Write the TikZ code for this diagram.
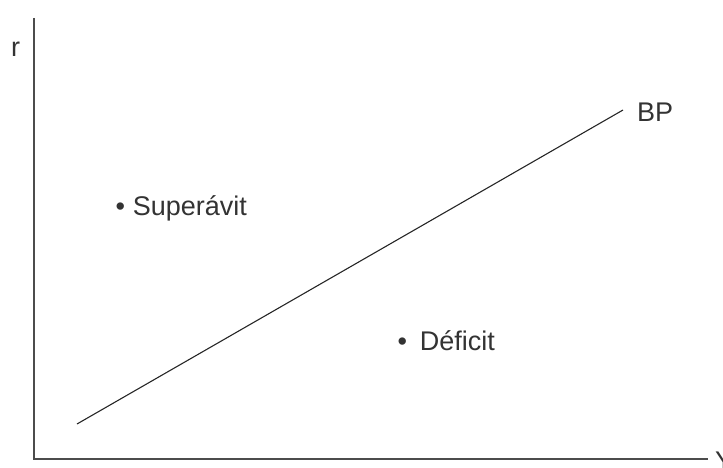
\documentclass[tikz,border=0pt]{standalone}
\usepackage{fontspec}
\setmainfont{Liberation Sans}
\begin{document}
\begin{tikzpicture}[x=1pt,y=1pt,
  lbl/.style={inner sep=0pt, anchor=base west, text=black!80, font=\fontsize{27}{32}\selectfont},
  axis/.style={draw=black!70, line width=2pt},
  bpline/.style={draw=black!85, line width=1.1pt}]
\useasboundingbox (0,0) rectangle (723,467);
\coordinate (top) at (33.5,449);
\coordinate (O) at (33.5,8);
\coordinate (right) at (708,8);
\coordinate (bpA) at (77,43);
\coordinate (bpB) at (623,357);
\draw[axis] (top) -- (O) -- (right);
\draw[bpline] (bpA) -- (bpB);
\node[lbl] (r) at (11,410) {r};
\node[lbl] (Y) at (715,-3) {Y};
\node[lbl] (BP) at (637,345) {BP};
\node[lbl] (sup) at (115.3,252) {•\hspace{8pt}Superávit};
\node[lbl] (def) at (397.3,117) {•\hspace{13pt}Déficit};
\end{tikzpicture}
\end{document}
